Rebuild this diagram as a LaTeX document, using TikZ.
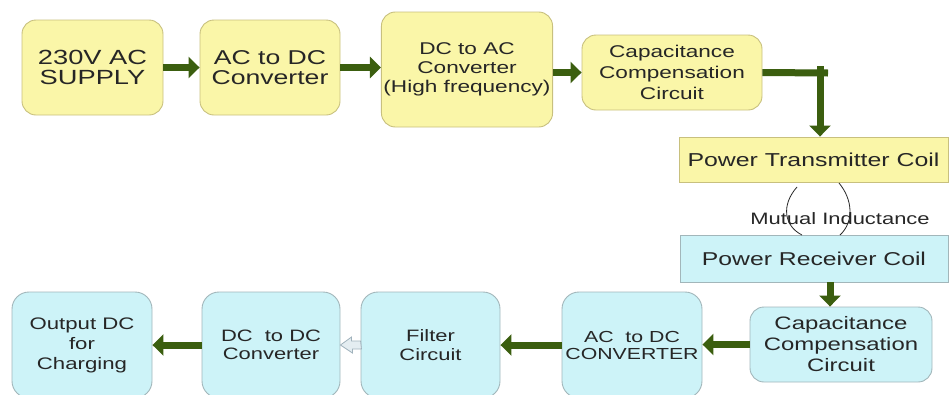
\documentclass[tikz,border=0pt]{standalone}
\usepackage{fontspec}
\setmainfont[FakeStretch=1.33]{Liberation Sans}
\usetikzlibrary{arrows.meta,calc}
\definecolor{yfill}{HTML}{FAF6A8}
\definecolor{ydraw}{HTML}{C8C07E}
\definecolor{cfill}{HTML}{CDF3F8}
\definecolor{cdraw}{HTML}{A2B6BA}
\definecolor{grn}{HTML}{3B5E0F}
\definecolor{hfill}{HTML}{E4EDF1}
\definecolor{hdraw}{HTML}{A0B2BC}
\definecolor{txt}{HTML}{262626}
\tikzset{
  box/.style={draw=ydraw,fill=yfill,rounded corners=14pt,align=center,inner sep=2pt,text=txt,line width=0.9pt},
  cbox/.style={box,draw=cdraw,fill=cfill,rounded corners=17pt},
  coil/.style={box,rounded corners=0pt},
  ccoil/.style={coil,draw=cdraw,fill=cfill},
  ar/.style={-{Triangle[length=11pt,width=21pt]},line width=7pt,draw=grn},
  ln/.style={line width=7pt,draw=grn},
  hol/.style={draw=hdraw,fill=hfill,line width=0.8pt},
}
\newcommand{\fs}[2]{\fontsize{#1}{#2}\selectfont}

\begin{document}
\begin{tikzpicture}[x=1pt,y=-1pt]
  \useasboundingbox (0,0) rectangle (950,394);
  \clip (0,0) rectangle (950,394);
  % top row
  \node[box,minimum width=141,minimum height=95,font=\fs{20.5}{20}] (sup) at (92.5,67.5) {230V AC\\SUPPLY};
  \node[box,minimum width=140,minimum height=95,font=\fs{20}{20}] (acdc) at (270,67.5) {AC to DC\\Converter};
  \node[box,minimum width=170,minimum height=115,font=\fs{17}{19}] (dcac) at (467,69.5) {DC to AC\\Converter\\(High frequency)};
  \node[box,minimum width=180,minimum height=75,font=\fs{17}{21}] (comp) at (672,72.5) {Capacitance\\Compensation\\Circuit};
  \draw[ar] (sup.east) -- (acdc.west);
  \draw[ar] (acdc.east) -- (acdc.east -| dcac.west);
  \draw[ar] (dcac.east |- comp.west) -- (comp.west);
  \coordinate (kink) at (828,73);
  \coordinate (drop) at (820,66);
  \draw[ln] (comp.east) -- (kink);
  % coils
  \node[coil,minimum width=269,minimum height=45,font=\fs{18.7}{20}] (tx) at (813.5,159.5) {Power Transmitter Coil};
  \node[ccoil,minimum width=268,minimum height=47,font=\fs{18.6}{20}] (rx) at (814,258.5) {Power Receiver Coil};
  \draw[ar] (drop) -- (drop |- tx.north);
  \node[text=txt,font=\fs{16.5}{18}] (mi) at (840,219) {Mutual Inductance};
  \draw[txt,line width=0.8pt] (797,187) .. controls (781,205) and (784,226) .. (802,235);
  \draw[txt,line width=0.8pt] (839,183) .. controls (853,200) and (854,222) .. (840,235);
  % bottom row
  \node[cbox,minimum width=182,minimum height=75,rounded corners=14pt,font=\fs{18}{21}] (comp2) at (841,344.5) {Capacitance\\Compensation\\Circuit};
  \node[cbox,minimum width=140,minimum height=106,font=\fs{16}{17}] (conv) at (632,345) {AC\ \ to DC\\CONVERTER};
  \node[cbox,minimum width=139,minimum height=106,font=\fs{16.5}{19}] (filt) at (430.5,345) {Filter\\Circuit};
  \node[cbox,minimum width=138,minimum height=106,font=\fs{16.5}{18}] (dcdc) at (271,345) {DC\ \ to DC\\Converter};
  \node[cbox,minimum width=140,minimum height=106,font=\fs{16.7}{20}] (out) at (82,345) {Output DC\\for\\Charging};
  \coordinate (down) at (830,282);
  \draw[ar] (down) -- (down |- comp2.north);
  \draw[ar] (comp2.west) -- (conv.east |- comp2.west);
  \draw[ar] (conv.west) -- (filt.east);
  \filldraw[hol] (filt.west) ++(0,-4) -- ++(-9,0) -- ++(0,-4) -- (dcdc.east) -- ++(12,8) -- ++(0,-4) -- ++(9,0) -- cycle;
  \draw[ar] (dcdc.west) -- (out.east);
\end{tikzpicture}
\end{document}
